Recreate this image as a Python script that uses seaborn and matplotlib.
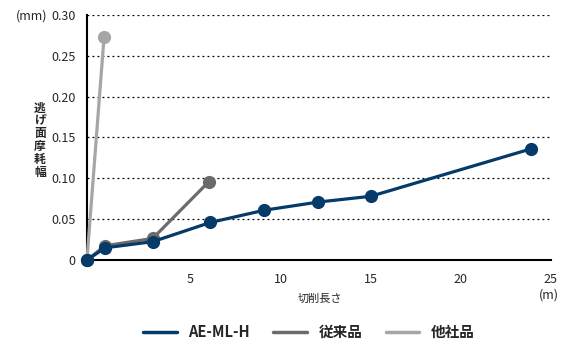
import numpy as np
import pandas as pd
import matplotlib
matplotlib.use("Agg")
import matplotlib.pyplot as plt
from matplotlib.lines import Line2D
import seaborn as sns

# data (x: 切削長さ m, y: 逃げ面摩耗幅 mm)
x_aeml = [-0.75, 0.25, 2.9, 6.1, 9.1, 12.1, 15.0, 23.9]
y_aeml = [0.0, 0.015, 0.0225, 0.046, 0.061, 0.071, 0.078, 0.136]
x_conv = [-0.75, 0.25, 2.9, 6.0]
y_conv = [0.0, 0.0175, 0.0265, 0.0955]
x_other = [-0.75, 0.2]
y_other = [0.0, 0.273]

series = ["AE-ML-H", "従来品", "他社品"]
colors = ["#063a68", "#6b6b6b", "#a6a6a6"]
x_ticks = [5, 10, 15, 20, 25]
y_ticks = [0, 0.05, 0.10, 0.15, 0.20, 0.25, 0.30]
y_ticklabels = ["0", "0.05", "0.10", "0.15", "0.20", "0.25", "0.30"]

df = pd.concat([
    pd.DataFrame({"x": x_other, "y": y_other, "s": "他社品"}),
    pd.DataFrame({"x": x_conv, "y": y_conv, "s": "従来品"}),
    pd.DataFrame({"x": x_aeml, "y": y_aeml, "s": "AE-ML-H"}),
])

sns.set_style("white")
plt.rcParams['font.family'] = ['Noto Sans CJK JP', 'DejaVu Sans']

fig = plt.figure(figsize=(5.72, 3.51), dpi=100)
ax = fig.add_axes([0.152, 0.259, 0.811, 0.699])

pal = dict(zip(series, colors))
for s in ["他社品", "従来品", "AE-ML-H"]:
    d = df[df.s == s]
    sns.lineplot(data=d, x="x", y="y", color=pal[s], marker="o", markersize=9.5,
                 markeredgewidth=0, linewidth=2.3, ax=ax, clip_on=False,
                 sort=False, zorder=3)

ax.set_xlim(-0.75, 25)
ax.set_ylim(0, 0.30)
ax.set_xticks(x_ticks)
ax.set_xticklabels([str(t) for t in x_ticks], fontsize=9)
ax.set_yticks(y_ticks)
ax.set_yticklabels(y_ticklabels, fontsize=9)
ax.tick_params(axis="x", direction="in", length=5, width=1.2, pad=9, color="black")
ax.tick_params(axis="y", length=0, pad=8)
ax.set_xlabel("")
ax.set_ylabel("")

for y in y_ticks[1:]:
    ax.axhline(y, color="black", linestyle=(0, (1.5, 2.5)), linewidth=0.9, zorder=1)

for side in ["top", "right"]:
    ax.spines[side].set_visible(False)
for side in ["left", "bottom"]:
    ax.spines[side].set_color("black")
    ax.spines[side].set_linewidth(1.5)

fig.text(0.028, 0.955, "(mm)", fontsize=9, va="center", ha="left")
fig.text(0.07, 0.60, "逃\nげ\n面\n摩\n耗\n幅", fontsize=8.5, va="center", ha="center",
         linespacing=1.0, fontweight="bold")
fig.text(0.56, 0.15, "切削長さ", fontsize=8, ha="center", va="center")
fig.text(0.96, 0.16, "(m)", fontsize=9, ha="center", va="center")

handles = [Line2D([], [], color=c, linewidth=2.5) for c in colors]
fig.legend(handles, series, loc="center", bbox_to_anchor=(0.54, 0.055), ncol=3,
           frameon=False, prop={"size": 10.5, "weight": "bold"}, handlelength=2.3,
           columnspacing=1.6, handletextpad=0.8)

fig.savefig("out.png", dpi=100)
